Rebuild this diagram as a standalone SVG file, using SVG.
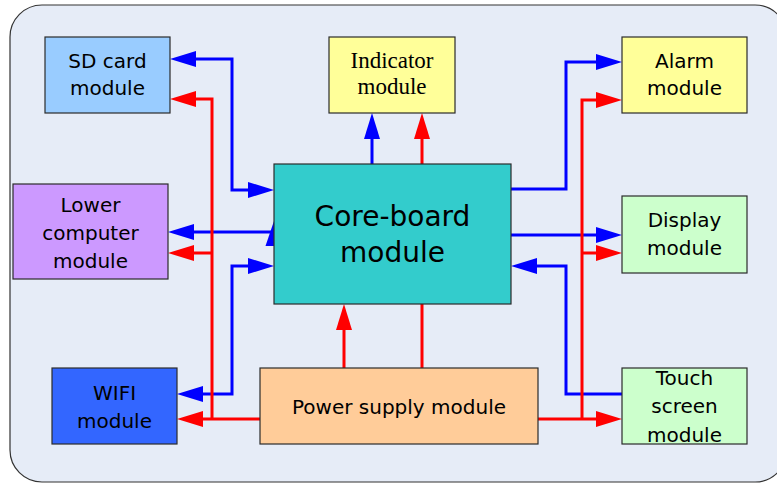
<svg xmlns="http://www.w3.org/2000/svg" width="777" height="483" viewBox="0 0 777 483">
  <style>
    .box { stroke: #2b2b2b; stroke-width: 1.2; }
    .t { font-family: "DejaVu Sans", Verdana, sans-serif; font-size: 20px; text-anchor: middle; fill: #000; }
    .serif { font-family: "Liberation Serif", "Times New Roman", serif; font-size: 23px; text-anchor: middle; fill: #000; }
    .big { font-size: 28px; }
    .blue { fill: none; stroke: #0000FF; stroke-width: 3; }
    .red { fill: none; stroke: #FF0000; stroke-width: 3; }
  </style>
  <defs>
    <marker id="ab" markerUnits="userSpaceOnUse" markerWidth="26" markerHeight="16" refX="16" refY="8" orient="auto-start-reverse">
      <path d="M0,0 L26,8 L0,16 Z" fill="#0000FF"/>
    </marker>
    <marker id="ar" markerUnits="userSpaceOnUse" markerWidth="26" markerHeight="16" refX="16" refY="8" orient="auto-start-reverse">
      <path d="M0,0 L26,8 L0,16 Z" fill="#FF0000"/>
    </marker>
  </defs>
  <rect x="0" y="0" width="777" height="483" fill="#FFFFFF"/>
  <rect id="background" x="10" y="5" width="777" height="477" rx="32" ry="32" fill="#E6ECF7" stroke="#333333" stroke-width="1.2"/>

  <g id="connectors">
    <!-- blue -->
    <path class="blue" d="M264,190 H232 V59 H180" marker-start="url(#ab)" marker-end="url(#ab)"/>
    <path class="blue" d="M274,232 H178" marker-end="url(#ab)"/>
    <polygon points="274,221 265.5,246 274,246" fill="#0000FF"/>
    <path class="blue" d="M264,266 H232 V394 H187" marker-start="url(#ab)" marker-end="url(#ab)"/>
    <path class="blue" d="M372,164 V123" marker-end="url(#ab)"/>
    <path class="blue" d="M511,189 H566 V62 H612" marker-end="url(#ab)"/>
    <path class="blue" d="M511,235 H612" marker-end="url(#ab)"/>
    <path class="blue" d="M622,394 H566 V266 H521" marker-end="url(#ab)"/>
    <!-- red -->
    <path class="red" d="M260,419 H187" marker-end="url(#ar)"/>
    <path class="red" d="M212,419 V99 H180" marker-end="url(#ar)"/>
    <path class="red" d="M212,253 H178" marker-end="url(#ar)"/>
    <path class="red" d="M422,164 V123" marker-end="url(#ar)"/>
    <path class="red" d="M344,368 V314" marker-end="url(#ar)"/>
    <path class="red" d="M422,304 V368"/>
    <path class="red" d="M538,419 H612" marker-end="url(#ar)"/>
    <path class="red" d="M582,419 V100 H612" marker-end="url(#ar)"/>
    <path class="red" d="M582,253 H612" marker-end="url(#ar)"/>
  </g>

  <g id="sd-card">
    <rect class="box" x="45" y="37" width="125" height="76" fill="#99CCFF"/>
    <text class="t" x="107.5" y="67.5">SD card</text>
    <text class="t" x="107.5" y="94.5">module</text>
  </g>
  <g id="indicator">
    <rect class="box" x="329" y="37" width="126" height="76" fill="#FFFF99"/>
    <text class="serif" x="392" y="68.3">Indicator</text>
    <text class="serif" x="392" y="94.3">module</text>
  </g>
  <g id="alarm">
    <rect class="box" x="622" y="37" width="125" height="76" fill="#FFFF99"/>
    <text class="t" x="684.5" y="68">Alarm</text>
    <text class="t" x="684.5" y="95">module</text>
  </g>
  <g id="lower-computer">
    <rect class="box" x="13" y="184" width="155" height="95" fill="#CC99FF"/>
    <text class="t" x="90.5" y="211.5">Lower</text>
    <text class="t" x="90.5" y="239.5">computer</text>
    <text class="t" x="90.5" y="268">module</text>
  </g>
  <g id="core-board">
    <rect class="box" x="274" y="164" width="237" height="140" fill="#33CCCC"/>
    <text class="t big" x="392.5" y="226">Core-board</text>
    <text class="t big" x="392.5" y="262">module</text>
  </g>
  <g id="display">
    <rect class="box" x="622" y="196" width="125" height="77" fill="#CCFFCC"/>
    <text class="t" x="684.5" y="227.3">Display</text>
    <text class="t" x="684.5" y="255">module</text>
  </g>
  <g id="wifi">
    <rect class="box" x="52" y="368" width="125" height="76" fill="#3366FF"/>
    <text class="t" x="114.5" y="400">WIFI</text>
    <text class="t" x="114.5" y="427.7">module</text>
  </g>
  <g id="power-supply">
    <rect class="box" x="260" y="368" width="278" height="76" fill="#FFCC99"/>
    <text class="t" x="399" y="414">Power supply module</text>
  </g>
  <g id="touch-screen">
    <rect class="box" x="622" y="368" width="125" height="76" fill="#CCFFCC"/>
    <text class="t" x="684.5" y="385">Touch</text>
    <text class="t" x="684.5" y="413.3">screen</text>
    <text class="t" x="684.5" y="441.7">module</text>
  </g>
</svg>
